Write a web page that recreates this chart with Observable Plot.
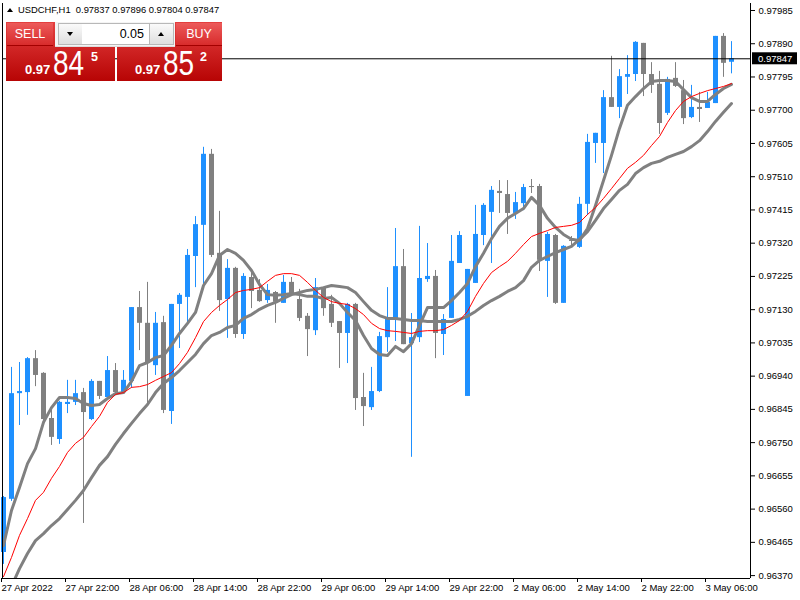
<!DOCTYPE html>
<html><head><meta charset="utf-8">
<script src="https://cdn.jsdelivr.net/npm/d3@7"></script>
<script src="https://cdn.jsdelivr.net/npm/@observablehq/plot@0.6"></script>
<style>
body{margin:0;background:#fff;}
#wrap{position:relative;width:800px;height:600px;overflow:hidden;font-family:"Liberation Sans",Arial,sans-serif;}
#chart{position:absolute;left:0;top:0;}
#hdr{position:absolute;left:18px;top:4px;font-size:9.4px;line-height:12px;color:#000;white-space:pre;}
#hdrTri{position:absolute;left:7px;top:8px;width:0;height:0;border-left:3px solid transparent;border-right:3px solid transparent;border-bottom:4px solid #000;}
#panel{position:absolute;left:6px;top:22px;width:216px;height:59px;}
.big{position:absolute;top:0;height:59px;background:linear-gradient(#e43f3f,#b70404);}
.btn{position:absolute;top:1px;height:22px;background:linear-gradient(#ec5a5a,#d82c2c);border-bottom:1px solid #a40000;color:#fff;font-size:12.5px;line-height:22px;text-align:center;}
.spin{position:absolute;top:0;left:49px;width:120px;height:24px;background:#f4f4f4;border-bottom:1px solid #ddd;}
.arr{position:absolute;top:1px;width:23px;height:20px;background:linear-gradient(#fafafa,#dedede);border:1px solid #b8b8b8;}
.inp{position:absolute;top:1px;left:27px;width:67px;height:20px;background:#fff;border-top:1px solid #b8b8b8;border-bottom:1px solid #b8b8b8;font-size:12.5px;line-height:20px;text-align:right;padding-right:0;color:#000;}
.tri{position:absolute;left:8px;width:0;height:0;border-left:3px solid transparent;border-right:3px solid transparent;}
.p{position:absolute;color:#fff;white-space:pre;}
.small{font-weight:bold;font-size:13px;line-height:13px;}
.large{font-size:35px;line-height:35px;transform:scaleX(0.8);transform-origin:left top;}
.sup{font-weight:bold;font-size:12.5px;line-height:13px;}
</style></head><body>
<div id="wrap">
<div id="chart"></div>
<div id="hdrTri"></div>
<div id="hdr"></div>
<div id="panel">
  <div class="big" style="left:0;width:109px"></div>
  <div class="big" style="left:111px;width:105px"></div>
  <div class="btn" style="left:1px;width:46px">SELL</div>
  <div class="btn" style="left:170px;width:46px">BUY</div>
  <div class="spin">
    <div class="arr" style="left:3px"><div class="tri" style="top:8px;border-top:4px solid #000"></div></div>
    <div class="inp"><span id="lot" style="padding-right:5px"></span></div>
    <div class="arr" style="left:94px"><div class="tri" style="top:8px;border-bottom:4px solid #000"></div></div>
  </div>
  <div class="p small" style="left:19px;top:41px" id="s1"></div>
  <div class="p large" style="left:47px;top:23px" id="s2"></div>
  <div class="p sup" style="left:85px;top:29px" id="s3"></div>
  <div class="p small" style="left:129px;top:41px" id="b1"></div>
  <div class="p large" style="left:157px;top:23px" id="b2"></div>
  <div class="p sup" style="left:194px;top:29px" id="b3"></div>
</div>
</div>
<script>
// ---- data (USDCHF H1) ----
const symbol = "USDCHF,H1";
const lotSize = "0.05";
const bidPrice = 0.97847;              // last price line
const sellPrice = 0.97845, buyPrice = 0.97852;  // one-click trading panel

const open = [0.96436,0.96588,0.96890,0.96893,0.96990,0.96948,0.96819,0.96759,0.96859,0.96865,
0.96893,0.96816,0.96925,0.96879,0.96956,0.96893,0.96925,0.97136,0.97091,0.96970,
0.97093,0.96839,0.97145,0.97165,0.97282,0.97371,0.97574,0.97291,0.97159,0.97248,
0.97059,0.97222,0.97185,0.97156,0.97179,0.97148,0.97208,0.97159,0.97111,0.97070,
0.97191,0.97145,0.97096,0.97062,0.97145,0.96879,0.96850,0.96896,0.97050,0.97102,
0.97253,0.97033,0.97050,0.97216,0.97225,0.97059,0.97105,0.97262,0.96882,0.97205,
0.97342,0.97408,0.97468,0.97459,0.97405,0.97433,0.97482,0.97482,0.97268,0.97342,
0.97148,0.97328,0.97308,0.97431,0.97605,0.97605,0.97736,0.97708,0.97794,0.97802,
0.97891,0.97802,0.97774,0.97691,0.97791,0.97756,0.97679,0.97708,0.97705,0.97719,
0.97911,0.97837];
const high = [0.96596,0.96965,0.96979,0.96993,0.97013,0.96950,0.96842,0.96868,0.96928,0.96928,
0.96905,0.96930,0.96925,0.96996,0.96976,0.96956,0.97136,0.97182,0.97208,0.97122,
0.97111,0.97145,0.97176,0.97302,0.97396,0.97594,0.97588,0.97411,0.97273,0.97251,
0.97233,0.97239,0.97216,0.97202,0.97182,0.97228,0.97222,0.97188,0.97119,0.97219,
0.97191,0.97171,0.97096,0.97148,0.97148,0.96948,0.96965,0.97065,0.97193,0.97362,
0.97302,0.97119,0.97368,0.97319,0.97242,0.97116,0.97342,0.97353,0.97245,0.97428,
0.97433,0.97482,0.97499,0.97499,0.97465,0.97488,0.97502,0.97488,0.97351,0.97345,
0.97313,0.97339,0.97451,0.97631,0.97634,0.97756,0.97854,0.97816,0.97856,0.97896,
0.97891,0.97836,0.97811,0.97794,0.97836,0.97785,0.97771,0.97751,0.97751,0.97911,
0.97919,0.97896];
const low = [0.96402,0.96582,0.96799,0.96828,0.96910,0.96813,0.96742,0.96745,0.96833,0.96856,
0.96519,0.96813,0.96873,0.96876,0.96890,0.96890,0.96905,0.97013,0.96862,0.96942,
0.96833,0.96802,0.97019,0.97091,0.97193,0.97191,0.97279,0.97125,0.97048,0.97048,
0.97045,0.97133,0.97151,0.97148,0.97091,0.97148,0.97176,0.97096,0.96996,0.97056,
0.97111,0.97079,0.96962,0.96976,0.96842,0.96796,0.96842,0.96893,0.97008,0.97039,
0.97030,0.96708,0.97036,0.97208,0.96990,0.96999,0.97105,0.97262,0.96882,0.97205,
0.97313,0.97262,0.97405,0.97345,0.97388,0.97413,0.97462,0.97239,0.97165,0.97145,
0.97148,0.97311,0.97305,0.97399,0.97548,0.97519,0.97708,0.97676,0.97745,0.97782,
0.97739,0.97748,0.97631,0.97685,0.97765,0.97659,0.97676,0.97665,0.97705,0.97719,
0.97794,0.97804];
const close = [0.96593,0.96890,0.96896,0.96990,0.96942,0.96816,0.96765,0.96865,0.96865,0.96890,
0.96836,0.96925,0.96882,0.96956,0.96893,0.96928,0.97136,0.97091,0.96976,0.97091,
0.96842,0.97145,0.97171,0.97285,0.97373,0.97574,0.97285,0.97156,0.97248,0.97059,
0.97225,0.97182,0.97153,0.97185,0.97151,0.97208,0.97176,0.97105,0.97073,0.97193,
0.97133,0.97091,0.97062,0.97145,0.96876,0.96853,0.96896,0.97053,0.97105,0.97253,
0.97030,0.97050,0.97219,0.97225,0.97062,0.97102,0.97268,0.97342,0.97245,0.97345,
0.97428,0.97471,0.97462,0.97405,0.97436,0.97479,0.97479,0.97271,0.97345,0.97148,
0.97311,0.97325,0.97431,0.97608,0.97634,0.97736,0.97708,0.97796,0.97802,0.97894,
0.97802,0.97771,0.97662,0.97788,0.97768,0.97676,0.97708,0.97702,0.97722,0.97911,
0.97834,0.97847];

// moving averages
const maFast = [0.96456,0.96556,0.96622,0.96690,0.96733,0.96808,0.96850,0.96879,0.96879,0.96876,
0.96862,0.96856,0.96859,0.96876,0.96890,0.96893,0.96925,0.96970,0.96979,0.96993,
0.96999,0.97028,0.97062,0.97091,0.97122,0.97199,0.97233,0.97285,0.97302,0.97291,
0.97271,0.97242,0.97202,0.97173,0.97171,0.97173,0.97176,0.97173,0.97168,0.97168,
0.97162,0.97165,0.97148,0.97122,0.97099,0.97056,0.97019,0.97002,0.96999,0.97025,
0.97010,0.97033,0.97085,0.97136,0.97136,0.97136,0.97156,0.97179,0.97205,0.97253,
0.97291,0.97333,0.97368,0.97391,0.97405,0.97419,0.97451,0.97428,0.97391,0.97365,
0.97345,0.97331,0.97328,0.97362,0.97428,0.97499,0.97571,0.97648,0.97714,0.97739,
0.97762,0.97782,0.97785,0.97785,0.97782,0.97759,0.97736,0.97725,0.97725,0.97745,
0.97762,0.97774];
const maMid = [0.96367,0.96422,0.96485,0.96533,0.96585,0.96608,0.96648,0.96682,0.96722,0.96748,
0.96765,0.96796,0.96825,0.96865,0.96888,0.96893,0.96908,0.96910,0.96916,0.96928,
0.96939,0.96950,0.96976,0.97008,0.97050,0.97096,0.97122,0.97142,0.97159,0.97179,
0.97185,0.97188,0.97193,0.97211,0.97228,0.97233,0.97233,0.97228,0.97208,0.97185,
0.97165,0.97153,0.97148,0.97145,0.97133,0.97116,0.97091,0.97076,0.97070,0.97068,
0.97065,0.97062,0.97068,0.97070,0.97070,0.97073,0.97085,0.97099,0.97125,0.97168,
0.97205,0.97236,0.97253,0.97268,0.97291,0.97316,0.97339,0.97348,0.97356,0.97365,
0.97368,0.97371,0.97379,0.97402,0.97422,0.97448,0.97476,0.97505,0.97534,0.97551,
0.97571,0.97599,0.97625,0.97665,0.97699,0.97725,0.97739,0.97748,0.97756,0.97762,
0.97768,0.97776];
const maSlow = [null,0.96339,0.96390,0.96433,0.96470,0.96490,0.96513,0.96533,0.96559,0.96585,
0.96613,0.96650,0.96685,0.96710,0.96745,0.96776,0.96805,0.96833,0.96859,0.96893,
0.96919,0.96936,0.96956,0.96979,0.97002,0.97033,0.97056,0.97065,0.97079,0.97085,
0.97105,0.97116,0.97131,0.97142,0.97151,0.97162,0.97173,0.97179,0.97185,0.97188,
0.97193,0.97199,0.97196,0.97193,0.97179,0.97153,0.97128,0.97113,0.97105,0.97105,
0.97102,0.97099,0.97099,0.97096,0.97096,0.97096,0.97096,0.97102,0.97111,0.97125,
0.97142,0.97156,0.97168,0.97182,0.97193,0.97213,0.97251,0.97271,0.97282,0.97293,
0.97302,0.97311,0.97331,0.97353,0.97385,0.97419,0.97445,0.97471,0.97488,0.97519,
0.97536,0.97548,0.97554,0.97565,0.97574,0.97582,0.97596,0.97613,0.97639,0.97668,
0.97694,0.97719];

const yTicks = [0.96370,0.96465,0.96560,0.96655,0.96750,0.96845,0.96940,0.97035,0.97130,
0.97225,0.97320,0.97415,0.97510,0.97605,0.97700,0.97795,0.97890,0.97985];
const timeIdx = [0,8,16,24,32,40,48,56,64,72,80,88];
const timeLabels = ["27 Apr 2022","27 Apr 22:00","28 Apr 06:00","28 Apr 14:00","28 Apr 22:00",
"29 Apr 06:00","29 Apr 14:00","29 Apr 22:00","2 May 06:00","2 May 14:00","2 May 22:00","3 May 06:00"];

// ---- chart ----
const BLUE = "#1e90ff", GRAY = "#808080";
const bars = open.map((o, i) => ({i, o, h: high[i], l: low[i], c: close[i], col: close[i] >= o ? BLUE : GRAY}));
const series = arr => arr.map((v, i) => ({i, v})).filter(d => d.v != null);
const xDomain = [-0.125, 93.375];
const yDomain = [0.963617, 0.98005];

const chart = Plot.plot({
  width: 800, height: 600,
  marginLeft: 2, marginRight: 50, marginTop: 3, marginBottom: 22,
  style: {fontFamily: "Liberation Sans, Arial, sans-serif", fontSize: "9.5px", background: "#fff", color: "#000", overflow: "visible"},
  x: {domain: xDomain, axis: null, label: null},
  y: {domain: yDomain, axis: null, label: null},
  color: {type: "identity"},
  marks: [
    Plot.ruleX(bars, {x: "i", y1: "l", y2: "h", stroke: "col", strokeWidth: 1}),
    Plot.ruleX(bars, {x: "i", y1: "o", y2: "c", stroke: "col", strokeWidth: 5}),
    Plot.line(series(maSlow), {x: "i", y: "v", stroke: GRAY, strokeWidth: 3, clip: true}),
    Plot.line(series(maFast), {x: "i", y: "v", stroke: GRAY, strokeWidth: 3, clip: true}),
    Plot.line(series(maMid), {x: "i", y: "v", stroke: "#ff0000", strokeWidth: 1, clip: true}),
    Plot.ruleY([bidPrice], {stroke: "#000", strokeWidth: 1}),
    Plot.ruleX([xDomain[0]], {stroke: "#000"}),
    Plot.ruleX([xDomain[1]], {stroke: "#000"}),
    Plot.ruleY([yDomain[0]], {stroke: "#000"}),
    Plot.axisY(yTicks, {anchor: "right", label: null, tickSize: 4, tickPadding: 4, tickFormat: d => d.toFixed(5), fill: "#000", stroke: "#000"}),
    Plot.axisX(timeIdx, {anchor: "bottom", label: null, tickSize: 4, tickPadding: 2, tickFormat: d => timeLabels[timeIdx.indexOf(d)], textAnchor: "start", dx: -2, fill: "#000", stroke: "#000"})
  ]
});
document.getElementById("chart").appendChild(chart);

// last-price label on the price axis
const ys = chart.scale("y"), xs = chart.scale("x");
const by = ys.apply(bidPrice), bx = xs.range[1];
const svg = d3.select(chart);
svg.append("rect").attr("x", bx + 2).attr("y", by - 6).attr("width", 45).attr("height", 12).attr("fill", "#000");
svg.append("text").attr("x", bx + 8).attr("y", by).attr("dy", "0.35em").attr("fill", "#fff")
  .attr("text-anchor", "start").attr("font-size", "9.5px")
  .attr("font-family", "Liberation Sans, Arial, sans-serif").text(bidPrice.toFixed(5));

// header & trading panel texts
document.getElementById("hdr").textContent = `${symbol}  ${open[91].toFixed(5)} ${high[91].toFixed(5)} ${low[91].toFixed(5)} ${close[91].toFixed(5)}`;
document.getElementById("lot").textContent = lotSize;
const parts = p => { const s = p.toFixed(5); return [s.slice(0, 4), s.slice(4, 6), s.slice(6)]; };
const [s1, s2, s3] = parts(sellPrice), [b1, b2, b3] = parts(buyPrice);
document.getElementById("s1").textContent = s1;
document.getElementById("s2").textContent = s2;
document.getElementById("s3").textContent = s3;
document.getElementById("b1").textContent = b1;
document.getElementById("b2").textContent = b2;
document.getElementById("b3").textContent = b3;
</script>
</body></html>
